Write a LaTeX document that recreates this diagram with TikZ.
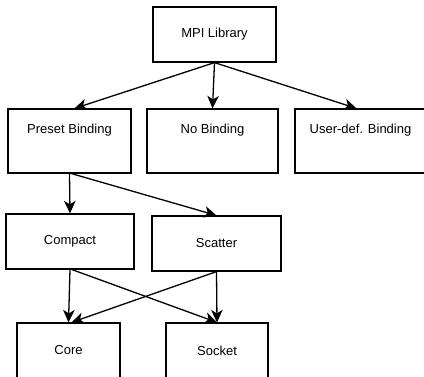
\documentclass[tikz,border=0pt]{standalone}
\usepackage{fontspec}
\setmainfont{Liberation Sans}
\usepackage{tikz}
\usetikzlibrary{arrows.meta,positioning,calc}

\begin{document}
\begin{tikzpicture}[
    x=1pt, y=-1pt,
    optbox/.style={rectangle, draw, line width=1.2pt, minimum height=55pt, inner sep=0pt, font=\fontsize{13}{15}\selectfont},
    bindbox/.style={optbox, minimum height=64pt, text height=10pt, text depth=26pt},
    arrow/.style={-{Stealth[length=12.5pt,width=11.5pt,inset=3.5pt]}, line width=1.3pt}
]
\useasboundingbox (0,0) rectangle (424,376);
\clip (0,0) rectangle (424,376);

% Library
\node[optbox, minimum width=123pt] (mpi) at (214.5,34.5) {MPI Library};

% Binding modes
\node[bindbox, minimum width=123pt] (prb) at (69.5,141) {Preset Binding};
\node[bindbox, minimum width=131pt] (nob) at (212.5,141) {No Binding};
\node[bindbox, minimum width=131pt] (udb) at (360.5,141) {User-def. Binding};

% Preset policies
\node[optbox, minimum width=128pt] (cmp) at (70,241.5) {Compact};
\node[optbox, minimum width=129pt] (sct) at (216.5,243.5) {Scatter};

% Granularity
\node[optbox, minimum width=103pt] (core) at (68.5,350.5) {Core};
\node[optbox, minimum width=102pt] (sock) at (217,350.5) {Socket};

% Connections
\draw[arrow] (mpi.south) -- ($(prb.north)+(5,0)$);
\draw[arrow] (mpi.south) -- (nob.north);
\draw[arrow] (mpi.south) -- ($(udb.north)+(-4,0)$);
\draw[arrow] (prb.south) -- (cmp.north);
\draw[arrow] ($(prb.south)+(2,0)$) -- (sct.north);
\draw[arrow] (cmp.south) -- (core.north);
\draw[arrow] ($(cmp.south)+(2,0)$) -- (sock.north);
\draw[arrow] (sct.south) -- ($(core.north)+(3,0)$);
\draw[arrow] (sct.south) -- (sock.north);

\end{tikzpicture}
\end{document}
